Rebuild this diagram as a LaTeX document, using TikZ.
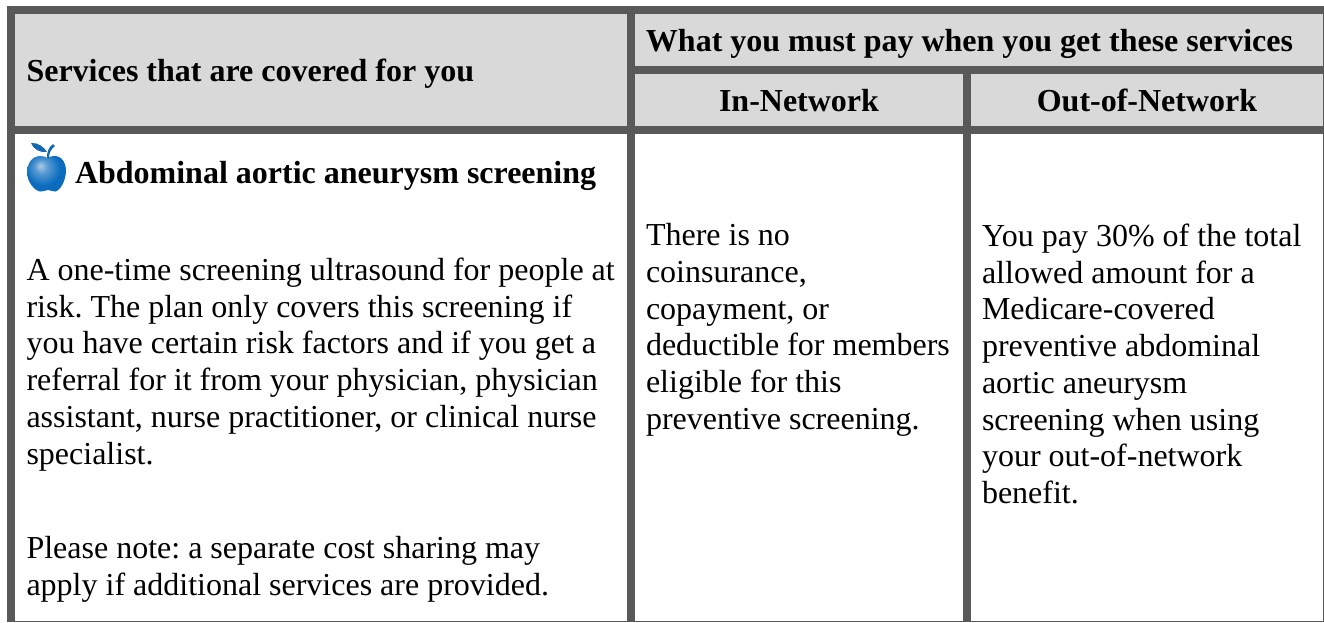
\documentclass[tikz,border=0pt]{standalone}
\usepackage{fontspec}
\setmainfont{Liberation Serif}
\frenchspacing
\definecolor{barc}{HTML}{595959}
\definecolor{headc}{HTML}{D9D9D9}
\definecolor{applec}{HTML}{0B6CBE}
\definecolor{leafc}{HTML}{1468B0}
\pgfdeclareradialshading{applesh}{\pgfpoint{-8bp}{10bp}}{
  color(0bp)=(applec!35!white);
  color(9bp)=(applec!70!white);
  color(22bp)=(applec);
  color(50bp)=(applec)
}
\tikzset{
  x=0.75pt,y=-0.75pt,
  bar/.style={fill=barc,draw=none},
  head/.style={fill=headc,draw=none},
  txt/.style={anchor=base west,inner sep=0pt,outer sep=0pt,font=\fontsize{24pt}{28pt}\selectfont},
  bold/.style={txt,font=\fontsize{24pt}{28pt}\selectfont\bfseries},
  boldc/.style={bold,anchor=base},
}
\begin{document}
\begin{tikzpicture}
\useasboundingbox (0,0) rectangle (1324,622);
\fill[white] (0,0) rectangle (1324,622);
% header fills
\path[head] (15,14) rectangle (1323,126);
% horizontal bars
\path[bar] (7,6) rectangle (1323,14);
\path[bar] (635,66) rectangle (1323,74);
\path[bar] (7,126) rectangle (1323,134);
% vertical bars
\path[bar] (7,6) rectangle (15,622);
\path[bar] (627,6) rectangle (635,622);
\path[bar] (963,66) rectangle (971,622);
\path[bar] (1322.6,6) rectangle (1324,622);
\path[bar] (7,620.8) rectangle (1324,622);
% header text
\node[bold] (h1) at (26.5,81) {Services that are covered for you};
\node[boldc] (h2) at (969.5,51) {What you must pay when you get these services};
\node[boldc] (h3) at (799,111) {In-Network};
\node[boldc] (h4) at (1147,111) {Out-of-Network};
% apple
\begin{scope}
\shade[shading=applesh]
  (47.5,158) .. controls (41,154) and (28,155) .. (27,172)
  .. controls (27,183) and (36,192) .. (41,191.5)
  .. controls (44,191.5) and (46,190) .. (48,190)
  .. controls (50,190) and (52,191.5) .. (55,191.5)
  .. controls (60,191) and (66,181) .. (66,170)
  .. controls (65,155) and (54,154) .. (47.5,158) -- cycle;
\fill[leafc] (47,158) .. controls (47,152) and (48,148) .. (53,144) -- (55,146)
  .. controls (51,149) and (49,153) .. (49,158) -- cycle;
\fill[leafc] (31,143) .. controls (38,142) and (45,148) .. (47,152)
  .. controls (40,153) and (33,149) .. (31,143) -- cycle;
\end{scope}
\node[bold] (t0) at (75,183) {Abdominal aortic aneurysm screening};
% column one
\node[txt] (a1) at (26.5,280) {A one-time screening ultrasound for people at};
\node[txt] (a2) at (26.5,317) {risk. The plan only covers this screening if};
\node[txt] (a3) at (26.5,353.5) {you have certain risk factors and if you get a};
\node[txt] (a4) at (26.5,390.5) {referral for it from your physician, physician};
\node[txt] (a5) at (26.5,427) {assistant, nurse practitioner, or clinical nurse};
\node[txt] (a6) at (26.5,464) {specialist.};
\node[txt] (a7) at (26.5,558.5) {Please note: a separate cost sharing may};
\node[txt] (a8) at (26.5,595.5) {apply if additional services are provided.};
% column two
\node[txt] (b1) at (646,245) {There is no};
\node[txt] (b2) at (646,282) {coinsurance,};
\node[txt] (b3) at (646,319) {copayment, or};
\node[txt] (b4) at (646,355.5) {deductible for members};
\node[txt] (b5) at (646,392.5) {eligible for this};
\node[txt] (b6) at (646,429) {preventive screening.};
% column three
\node[txt] (c1) at (982,246) {You pay 30\% of the total};
\node[txt] (c2) at (982,283) {allowed amount for a};
\node[txt] (c3) at (982,319.5) {Medicare-covered};
\node[txt] (c4) at (982,356.5) {preventive abdominal};
\node[txt] (c5) at (982,393) {aortic aneurysm};
\node[txt] (c6) at (982,430) {screening when using};
\node[txt] (c7) at (982,466.5) {your out-of-network};
\node[txt] (c8) at (982,503.5) {benefit.};
\end{tikzpicture}
\end{document}
